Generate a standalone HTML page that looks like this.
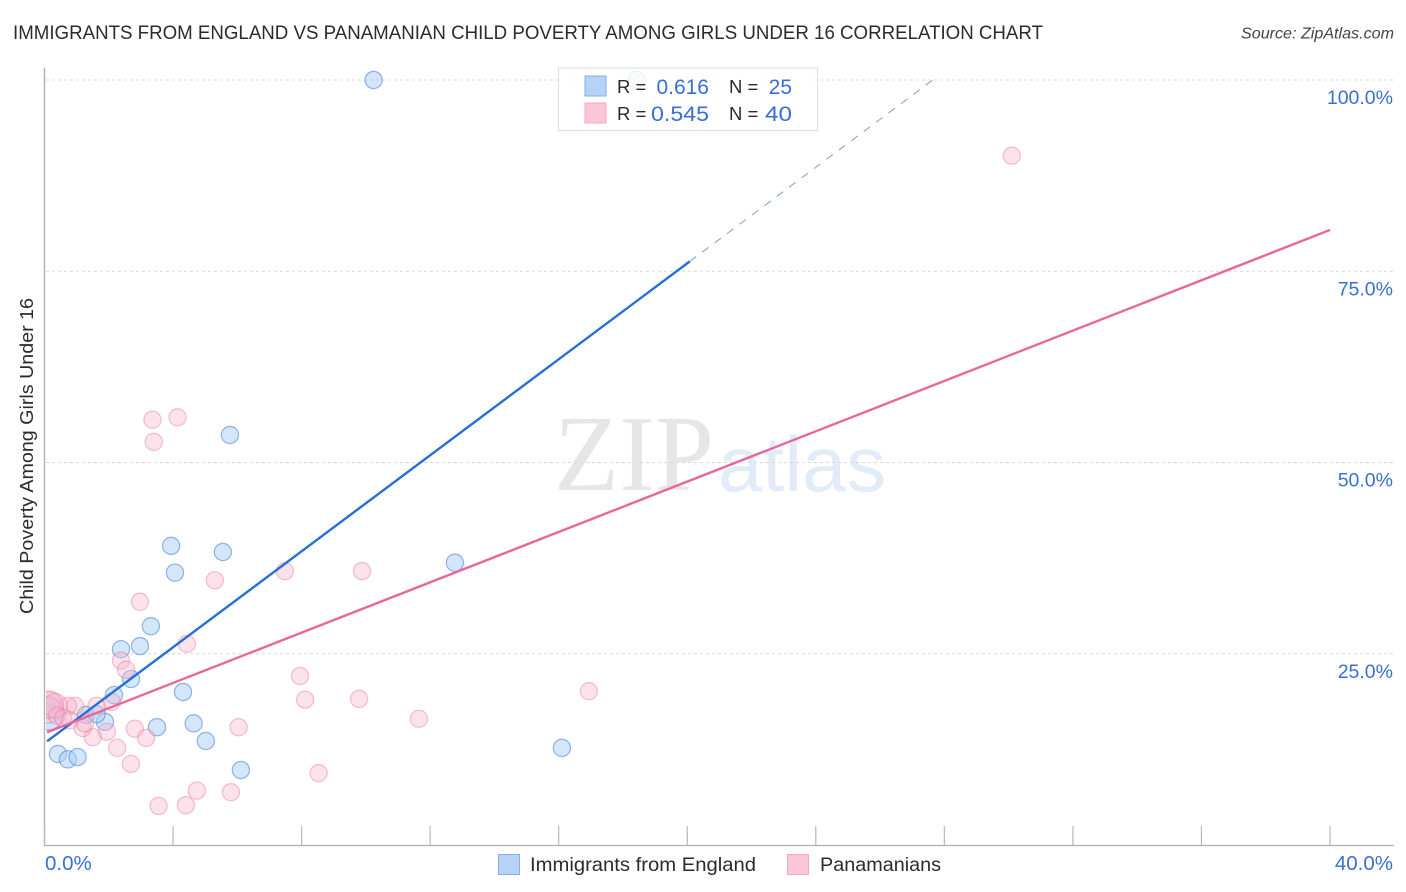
<!DOCTYPE html>
<html lang="en">
<head>
<meta charset="utf-8">
<title>Immigrants from England vs Panamanian Child Poverty Among Girls Under 16 Correlation Chart</title>
<style>
html,body{margin:0;padding:0;background:#fff;width:1406px;height:892px;overflow:hidden}
svg{display:block}
text{font-family:"Liberation Sans",sans-serif}
</style>
</head>
<body>
<svg id="chart" width="1406" height="892" viewBox="0 0 1406 892" xmlns="http://www.w3.org/2000/svg">
  <defs><clipPath id="plot-clip"><rect x="46" y="68" width="1348" height="777"/></clipPath></defs>
  <text x="13" y="39" font-size="19.5" fill="#2b2b2b" textLength="1030" lengthAdjust="spacingAndGlyphs">IMMIGRANTS FROM ENGLAND VS PANAMANIAN CHILD POVERTY AMONG GIRLS UNDER 16 CORRELATION CHART</text>
  <text x="1394" y="38.5" font-size="16" font-style="italic" fill="#444" text-anchor="end" textLength="153" lengthAdjust="spacingAndGlyphs">Source: ZipAtlas.com</text>
  <g>
    <text x="554" y="490" font-size="108" fill="#e6e6e6" style="font-family:'Liberation Serif',serif" textLength="160" lengthAdjust="spacingAndGlyphs">ZIP</text>
    <text x="718" y="491" font-size="78" fill="#e2ecf9" textLength="168" lengthAdjust="spacingAndGlyphs">atlas</text>
  </g>
  <g id="grid"></g>
  <g id="blue-points" clip-path="url(#plot-clip)"></g>
  <g id="pink-points" clip-path="url(#plot-clip)"></g>
  <g id="trends" clip-path="url(#plot-clip)"></g>
  <rect x="0" y="60" width="45" height="785" fill="#fff"/>
  <g id="axes"></g>
  <text transform="translate(33 456) rotate(-90)" font-size="18.5" fill="#2b2b2b" text-anchor="middle" textLength="316" lengthAdjust="spacingAndGlyphs">Child Poverty Among Girls Under 16</text>
  <g>
    <rect x="558.5" y="68" width="259" height="62.5" fill="#fff" fill-opacity="0.82" stroke="#dedede" stroke-width="1"/>
    <rect x="585" y="76" width="21" height="20" fill="#b6d3f7" stroke="#85aee3" stroke-width="1"/>
    <rect x="585" y="103" width="21" height="20" fill="#fac7d8" stroke="#f0a8c0" stroke-width="1"/>
    <text x="617" y="93" font-size="18.5" fill="#2b2b2b">R =</text>
    <text x="709" y="94" font-size="21" fill="#3a6fd2" text-anchor="end">0.616</text>
    <text x="729" y="93" font-size="18.5" fill="#2b2b2b">N =</text>
    <text x="792" y="94" font-size="21" fill="#3a6fd2" text-anchor="end">25</text>
    <text x="617" y="120" font-size="18.5" fill="#2b2b2b">R =</text>
    <text x="709" y="121" font-size="21" fill="#3a6fd2" text-anchor="end" textLength="58" lengthAdjust="spacingAndGlyphs">0.545</text>
    <text x="729" y="120" font-size="18.5" fill="#2b2b2b">N =</text>
    <text x="792" y="121" font-size="21" fill="#3a6fd2" text-anchor="end" textLength="27" lengthAdjust="spacingAndGlyphs">40</text>
  </g>
  <g>
    <rect x="498.5" y="854.5" width="21" height="20" fill="#b6d3f7" stroke="#85aee3" stroke-width="1"/>
    <text x="530" y="871" font-size="19.5" fill="#2b2b2b" textLength="226" lengthAdjust="spacingAndGlyphs">Immigrants from England</text>
    <rect x="787.5" y="854.5" width="21" height="20" fill="#fac7d8" stroke="#f0a8c0" stroke-width="1"/>
    <text x="820" y="871" font-size="19.5" fill="#2b2b2b" textLength="121" lengthAdjust="spacingAndGlyphs">Panamanians</text>
  </g>
</svg>
<script>
var xTickValues = [0, 4, 8, 12, 16, 20, 24, 28, 32, 36, 40];
var xEndLabels = ['0.0%', '40.0%'];
var yTickValues = [25, 50, 75, 100];
var yTickLabels = ['25.0%', '50.0%', '75.0%', '100.0%'];

var englandX = [10.24, 18.43, 5.77, 3.94, 5.55, 4.06, 12.77, 3.31, 2.38, 2.97, 2.16, 2.69, 4.31, 3.50, 4.64, 5.02, 6.11, 16.10, 0.42, 0.73, 1.03, 1.29, 1.88, 1.62, 0.10];
var englandY = [100, 100, 53.6, 39.1, 38.3, 35.6, 36.9, 28.6, 25.6, 26.0, 19.6, 21.7, 20.0, 15.4, 15.9, 13.6, 9.8, 12.7, 11.9, 11.2, 11.5, 17.0, 16.1, 17.1, 17.2];
var englandWeight = [1, 1, 1, 1, 1, 1, 1, 1, 1, 1, 1, 1, 1, 1, 1, 1, 1, 1, 1, 1, 1, 1, 1, 1, 3.7];

var panamanianX = [30.10, 3.36, 4.14, 3.40, 7.48, 9.88, 5.30, 2.97, 4.43, 2.38, 2.54, 7.95, 8.11, 9.79, 16.94, 11.65, 6.04, 2.09, 2.81, 3.16, 2.26, 2.69, 8.53, 4.74, 5.80, 4.40, 3.55, 1.94, 1.50, 1.19, 0.95, 1.62, 0.73, 1.26, 0.08, 0.17, 0.33, 0.39, 0.58, 0.79];
var panamanianY = [90.1, 55.6, 55.9, 52.7, 35.8, 35.8, 34.6, 31.8, 26.3, 24.1, 22.9, 22.1, 19.0, 19.1, 20.1, 16.5, 15.4, 18.7, 15.2, 14.0, 12.7, 10.6, 9.4, 7.1, 6.9, 5.2, 5.1, 14.8, 14.1, 15.3, 18.2, 18.2, 18.2, 15.9, 18.0, 18.3, 18.2, 16.9, 16.6, 16.3];
var panamanianWeight = [1, 1, 1, 1, 1, 1, 1, 1, 1, 1, 1, 1, 1, 1, 1, 1, 1, 1, 1, 1, 1, 1, 1, 1, 1, 1, 1, 1, 1, 1, 1, 1, 1, 1, 3.5, 2.5, 2, 1, 1, 1];

var englandIntercept = 13.3;
var englandSlope = 3.137;
var englandSolidEnd = 20.08;
var panamanianIntercept = 14.6;
var panamanianSlope = 1.645;
var panamanianEnd = 40;

var NS = 'http://www.w3.org/2000/svg';
function xScale(v) { return 44.5 + v * (1330 - 44.5) / 40; }
function yScale(v) { return 845 - v * (845 - 80) / 100; }
function make(tag, attrs, parent, txt) {
  var el = document.createElementNS(NS, tag);
  for (var k in attrs) el.setAttribute(k, attrs[k]);
  if (txt !== undefined) el.textContent = txt;
  parent.appendChild(el);
  return el;
}

var grid = document.getElementById('grid');
var axes = document.getElementById('axes');
yTickValues.forEach(function (v, i) {
  var g = make('line', {x1: 46, x2: 1394, y1: yScale(v), y2: yScale(v), stroke: '#d8d8d8', 'stroke-width': 1, 'stroke-dasharray': '3 3'}, grid);
  
  
  var t = make('text', {x: 1393, y: yScale(v) + 24, 'font-size': 19.5, fill: '#3a6fd2', 'text-anchor': 'end'}, axes, yTickLabels[i]);
  
  
});
var yAxis = make('line', {x1: 44.5, x2: 44.5, y1: 68, y2: 846, stroke: '#b0b0b0', 'stroke-width': 1.4}, axes);


var xAxis = make('line', {x1: 44, x2: 1394, y1: 845.5, y2: 845.5, stroke: '#b0b0b0', 'stroke-width': 1.2}, axes);


xTickValues.forEach(function (v) {
  var t = make('line', {x1: xScale(v), x2: xScale(v), y1: 826, y2: 845, stroke: '#b8b8b8', 'stroke-width': 1.2}, axes);
  
  
});
var xLabelMin = make('text', {x: 45, y: 870, 'font-size': 20.5, fill: '#3a6fd2'}, axes, xEndLabels[0]);


var xLabelMax = make('text', {x: 1393, y: 870, 'font-size': 20.5, fill: '#3a6fd2', 'text-anchor': 'end'}, axes, xEndLabels[1]);



function drawPoints(parentId, xs, ys, ws, fill, stroke) {
  var parent = document.getElementById(parentId);
  xs.forEach(function (x, i) {
    var c = make('circle', {cx: xScale(x), cy: yScale(ys[i]), r: 8.6 * Math.sqrt(ws[i]), fill: fill, stroke: stroke, 'stroke-width': 1.2}, parent);
    
    
  });
}
drawPoints('blue-points', englandX, englandY, englandWeight, 'rgba(170,205,245,0.5)', 'rgba(60,125,215,0.55)');
drawPoints('pink-points', panamanianX, panamanianY, panamanianWeight, 'rgba(248,180,202,0.38)', 'rgba(232,110,155,0.42)');

var trends = document.getElementById('trends');
var startV = 0.08;
var blueSolid = make('line', {x1: xScale(startV), y1: yScale(englandIntercept + englandSlope * startV), x2: xScale(englandSolidEnd), y2: yScale(englandIntercept + englandSlope * englandSolidEnd), stroke: '#2470d8', 'stroke-width': 2.4}, trends);


var blueDashEnd = (100 - englandIntercept) / englandSlope;
var blueDash = make('line', {x1: xScale(englandSolidEnd), y1: yScale(englandIntercept + englandSlope * englandSolidEnd), x2: xScale(blueDashEnd), y2: yScale(100), stroke: '#7d9fd0', 'stroke-width': 1, 'stroke-dasharray': '8 7.5'}, trends);


var pinkLine = make('line', {x1: xScale(startV), y1: yScale(panamanianIntercept + panamanianSlope * startV), x2: xScale(panamanianEnd), y2: yScale(panamanianIntercept + panamanianSlope * panamanianEnd), stroke: '#e8679a', 'stroke-width': 2.4}, trends);


</script>
</body>
</html>
